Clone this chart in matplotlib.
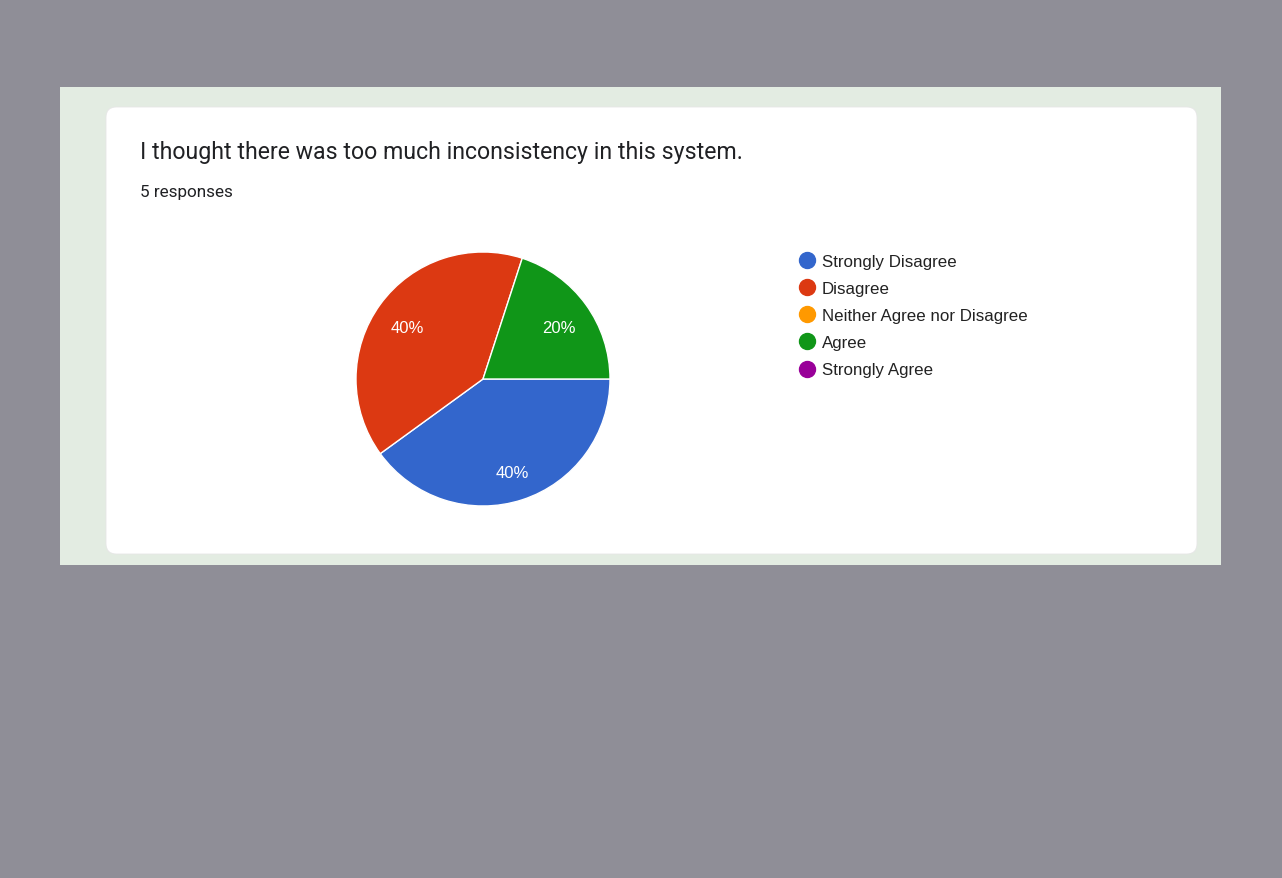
import matplotlib
matplotlib.use("Agg")
import matplotlib.pyplot as plt
from matplotlib.patches import Rectangle, FancyBboxPatch
from matplotlib.lines import Line2D

# --- data ---------------------------------------------------------------------
categories = ["Strongly Disagree", "Disagree", "Neither Agree nor Disagree",
              "Agree", "Strongly Agree"]
counts = [2, 2, 0, 1, 0]
colors = ["#3366cc", "#dc3912", "#ff9900", "#109618", "#990099"]
title = "I thought there was too much inconsistency in this system."
subtitle = "5 responses"

W, H = 1282, 879
fig = plt.figure(figsize=(W / 100, H / 100), dpi=100)
fig.patch.set_facecolor("#8f8e97")


def fx(px):
    return px / W


def fy(py):
    return 1 - py / H


# green-ish panel and white card (kept behind the pie axes)
fig.patches.append(Rectangle((fx(60), fy(566)), fx(1221) - fx(60), fy(88) - fy(566),
                             transform=fig.transFigure, facecolor="#e3ece2",
                             edgecolor="none", zorder=-3))
fig.patches.append(FancyBboxPatch((fx(106), fy(555)), fx(1197) - fx(106), fy(108) - fy(555),
                                  boxstyle="round,pad=0,rounding_size=0.008",
                                  transform=fig.transFigure, facecolor="white",
                                  edgecolor="#e6e6e6", linewidth=0.6, zorder=-2,
                                  mutation_aspect=W / H))

fig.text(fx(140), fy(153), title, fontsize=16.7, family="Roboto", color="#202124",
         va="center", ha="left")
fig.text(fx(140), fy(193), subtitle, fontsize=12.3, family="Roboto", color="#202124",
         va="center", ha="left")

# pie
cx, cy, r = 483, 380, 127
ax = fig.add_axes([fx(cx - r), fy(cy + r), 2 * r / W, 2 * r / H])
nz = [(c, v, col) for c, v, col in zip(categories, counts, colors) if v > 0]
wedges, _, autotexts = ax.pie(
    [v for _, v, _ in nz], colors=[col for _, _, col in nz],
    startangle=0, counterclock=False, radius=1,
    autopct="%1.0f%%", pctdistance=0.74,
    wedgeprops=dict(edgecolor="white", linewidth=1.0),
    textprops=dict(color="white", fontsize=12, family="Liberation Sans"))
for t in autotexts:
    t.set_va("center_baseline")
    x, y = t.get_position()
    t.set_position((x, y - 0.02))
ax.set_xlim(-1.0, 1.0)
ax.set_ylim(-1.0, 1.0)
ax.set_aspect("equal")
ax.axis("off")

handles = [Line2D([], [], marker="o", linestyle="none", markersize=11.5,
                  markerfacecolor=col, markeredgecolor=col) for col in colors]
leg = fig.legend(handles, categories, loc="upper left", bbox_to_anchor=(fx(799), fy(255)),
                 frameon=False, handletextpad=0.35, labelspacing=0.715, handlelength=1.0,
                 borderaxespad=0, borderpad=0,
                 prop=dict(family="Liberation Sans", size=12.2))
for t in leg.get_texts():
    t.set_color("#222222")

fig.savefig("out.png", dpi=100, facecolor=fig.get_facecolor())
